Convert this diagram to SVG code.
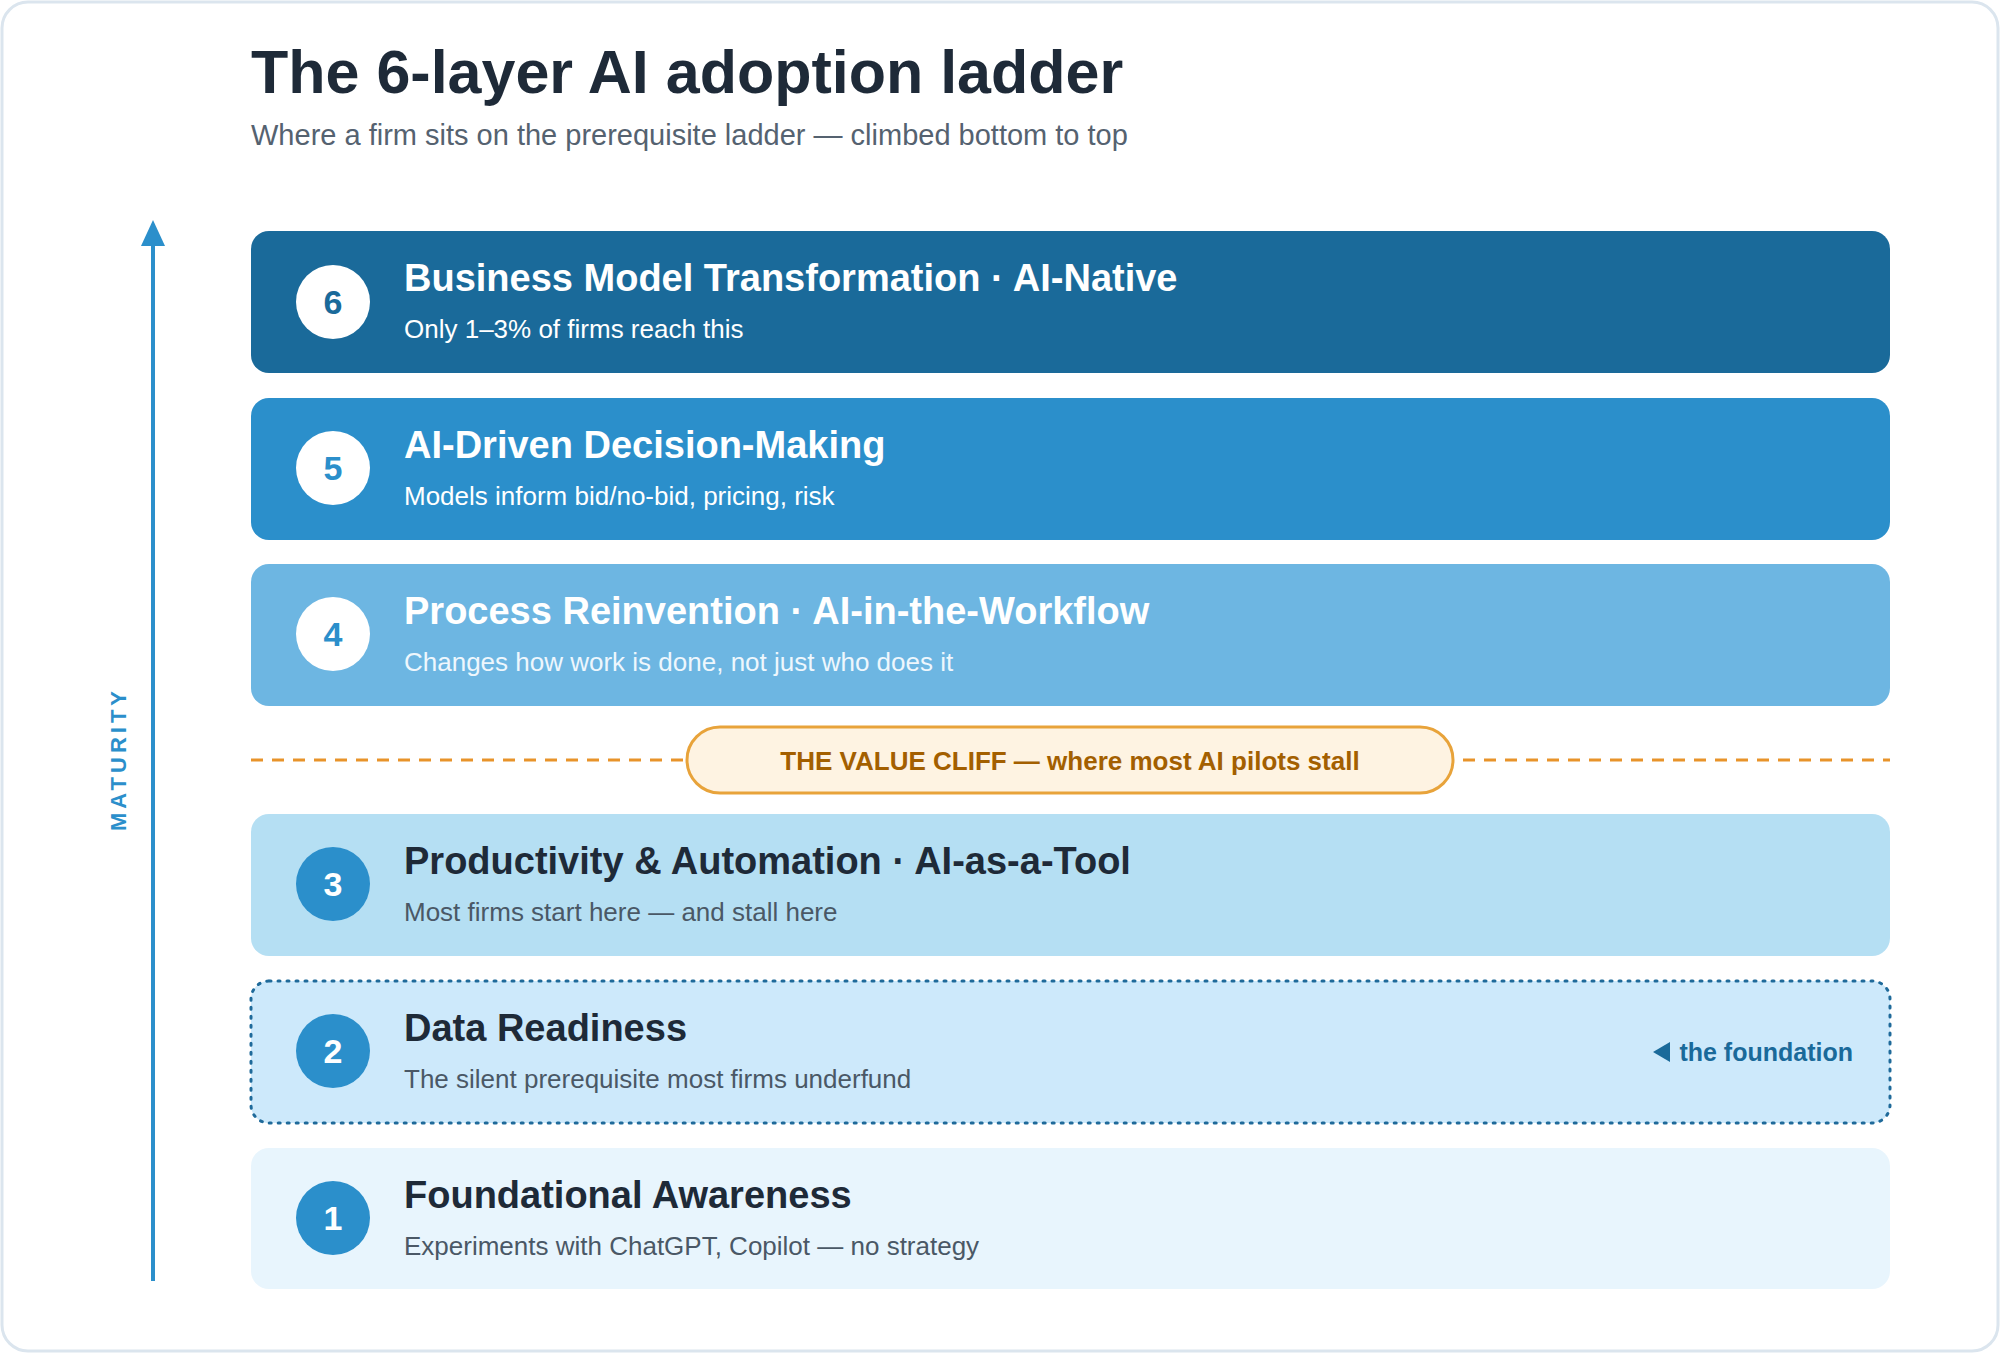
<svg xmlns="http://www.w3.org/2000/svg" width="2000" height="1353" viewBox="0 0 2000 1353">
<style>
text{font-family:"Liberation Sans",Arial,sans-serif}
.t{font-size:38px;font-weight:bold}
.s{font-size:26px}
.n{font-size:34px;font-weight:bold;text-anchor:middle}
</style>
<defs><marker id="ah" markerWidth="10" markerHeight="10" refX="5" refY="8" orient="auto" markerUnits="userSpaceOnUse" viewBox="0 0 10 10"><path d="M0,10 L5,0 L10,10 Z" fill="#2b8fcb"/></marker></defs>
<rect x="2" y="2" width="1996" height="1349" rx="26" fill="#fff" stroke="#dbe5ee" stroke-width="3"/>
<text x="251" y="93" font-size="61" font-weight="bold" fill="#1e2a38">The 6-layer AI adoption ladder</text>
<text x="251" y="145" font-size="29" fill="#556270">Where a firm sits on the prerequisite ladder — climbed bottom to top</text>
<g id="axis">
<line x1="153" y1="1281" x2="153" y2="230" stroke="#2b8fcb" stroke-width="4"/>
<path d="M141,246 L153,220 L165,246 Z" fill="#2b8fcb"/>
<text transform="translate(126,759) rotate(-90)" text-anchor="middle" font-size="22" font-weight="bold" letter-spacing="4" fill="#2b8fcb">MATURITY</text>
</g>
<g id="layer6"><rect x="251" y="231" width="1639" height="142" rx="18" fill="#1a6a9a"/><circle cx="333" cy="302" r="37" fill="#fff"/><text class="n" x="333" y="314" fill="#1a6a9a">6</text><text class="t" x="404" y="291" fill="#fff">Business Model Transformation · AI-Native</text><text class="s" x="404" y="338" fill="#fff">Only 1–3% of firms reach this</text></g>
<g id="layer5"><rect x="251" y="398" width="1639" height="142" rx="18" fill="#2b8fcb"/><circle cx="333" cy="468" r="37" fill="#fff"/><text class="n" x="333" y="480" fill="#2b8fcb">5</text><text class="t" x="404" y="458" fill="#fff">AI-Driven Decision-Making</text><text class="s" x="404" y="505" fill="#fff">Models inform bid/no-bid, pricing, risk</text></g>
<g id="layer4"><rect x="251" y="564" width="1639" height="142" rx="18" fill="#6db6e2"/><circle cx="333" cy="634" r="37" fill="#fff"/><text class="n" x="333" y="646" fill="#2b8fcb">4</text><text class="t" x="404" y="624" fill="#fff">Process Reinvention · AI-in-the-Workflow</text><text class="s" x="404" y="671" fill="#eef7fd">Changes how work is done, not just who does it</text></g>
<g id="cliff">
<line x1="251" y1="760" x2="687" y2="760" stroke="#e8932a" stroke-width="3" stroke-dasharray="12,9"/>
<line x1="1463" y1="760" x2="1890" y2="760" stroke="#e8932a" stroke-width="3" stroke-dasharray="12,9"/>
<rect x="687" y="727" width="766" height="66" rx="33" fill="#fef3e2" stroke="#e8a33a" stroke-width="3"/>
<text x="1070" y="770" text-anchor="middle" font-size="26" font-weight="bold" fill="#a35f00">THE VALUE CLIFF — where most AI pilots stall</text>
</g>
<g id="layer3"><rect x="251" y="814" width="1639" height="142" rx="18" fill="#b5dff3"/><circle cx="333" cy="884" r="37" fill="#2b8fcb"/><text class="n" x="333" y="896" fill="#fff">3</text><text class="t" x="404" y="874" fill="#1e2a38">Productivity &amp; Automation · AI-as-a-Tool</text><text class="s" x="404" y="921" fill="#4a5866">Most firms start here — and stall here</text></g>
<g id="layer2"><rect x="251" y="981" width="1639" height="142" rx="18" fill="#cde9fb" stroke="#1f6a9a" stroke-width="3" stroke-dasharray="2,7" stroke-linecap="round"/><circle cx="333" cy="1051" r="37" fill="#2b8fcb"/><text class="n" x="333" y="1063" fill="#fff">2</text><text class="t" x="404" y="1041" fill="#1e2a38">Data Readiness</text><text class="s" x="404" y="1088" fill="#4a5866">The silent prerequisite most firms underfund</text><path d="M1653,1052 L1670,1042 L1670,1062 Z" fill="#1a6a9a"/><text x="1853" y="1061" text-anchor="end" font-size="25" font-weight="bold" fill="#1a6a9a">the foundation</text></g>
<g id="layer1"><rect x="251" y="1148" width="1639" height="141" rx="18" fill="#e8f5fd"/><circle cx="333" cy="1218" r="37" fill="#2b8fcb"/><text class="n" x="333" y="1230" fill="#fff">1</text><text class="t" x="404" y="1208" fill="#1e2a38">Foundational Awareness</text><text class="s" x="404" y="1255" fill="#4a5866">Experiments with ChatGPT, Copilot — no strategy</text></g>
</svg>
